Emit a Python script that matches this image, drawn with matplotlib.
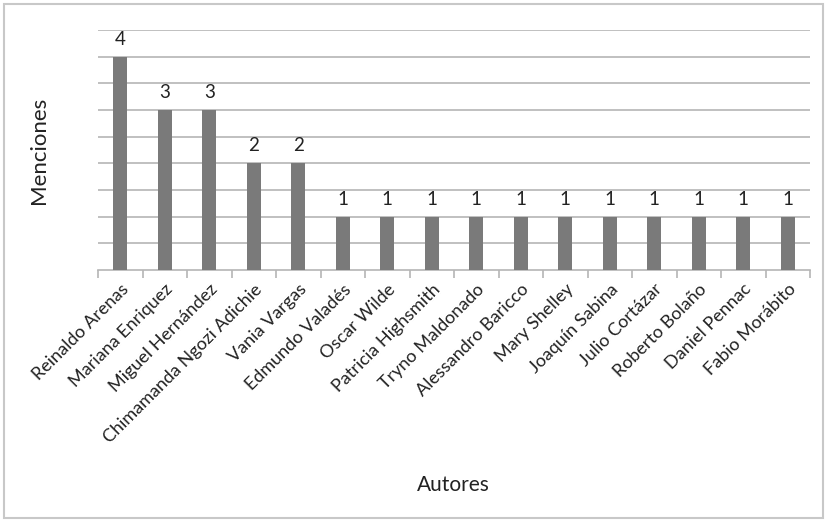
import matplotlib
matplotlib.use("Agg")
import matplotlib.pyplot as plt
from matplotlib.patches import Rectangle

autores = ["Reinaldo Arenas", "Mariana Enriquez", "Miguel Hernández",
           "Chimamanda Ngozi Adichie", "Vania Vargas", "Edmundo Valadés",
           "Oscar Wilde", "Patricia Highsmith", "Tryno Maldonado",
           "Alessandro Baricco", "Mary Shelley", "Joaquín Sabina",
           "Julio Cortázar", "Roberto Bolaño", "Daniel Pennac",
           "Fabio Morábito"]
menciones = [4, 3, 3, 2, 2, 1, 1, 1, 1, 1, 1, 1, 1, 1, 1, 1]

plt.rcParams['font.family'] = ['Lato', 'DejaVu Sans']

fig = plt.figure(figsize=(8.27, 5.22), dpi=100)
ax = fig.add_axes([98/827, 1-270/522, (810-98)/827, 240/522])

x = list(range(len(autores)))
ax.bar(x, menciones, width=0.31, color='#7a7a7a', zorder=3)
for xi, v in zip(x, menciones):
    ax.text(xi, v + 0.17, str(v), ha='center', va='bottom', fontsize=13.5, color='#222222')

ax.set_xlim(-0.5, len(autores) - 0.5)
ax.set_ylim(0, 4.5)
ax.set_yticks([i * 0.5 for i in range(1, 10)])
ax.set_yticklabels([])
ax.tick_params(axis='y', length=0)
ax.grid(axis='y', color='#b5b5b5', linewidth=1.2, zorder=0)

ax.set_xticks([i - 0.5 for i in range(len(autores) + 1)], minor=True)
ax.set_xticks(x)
ax.set_xticklabels(autores, rotation=45, ha='right', rotation_mode='anchor', fontsize=13, color='#222222')
ax.tick_params(axis='x', which='major', length=0, pad=8)
ax.tick_params(axis='x', which='minor', length=6, color='#b5b5b5', width=1.2)

for s in ['top', 'right', 'left']:
    ax.spines[s].set_visible(False)
ax.spines['bottom'].set_color('#b5b5b5')
ax.spines['bottom'].set_linewidth(1.2)

ax.set_ylabel('Menciones', fontsize=16, color='#222222', labelpad=32)
fig.text(453/827, 1-485/522, 'Autores', ha='center', va='center', fontsize=15, color='#222222')

fig.patches.append(Rectangle((4/827, 4/522), 1-8/827, 1-8/522, transform=fig.transFigure,
                             fill=False, edgecolor='#c8c8c8', linewidth=1.5))

fig.savefig('out.png', dpi=100)
